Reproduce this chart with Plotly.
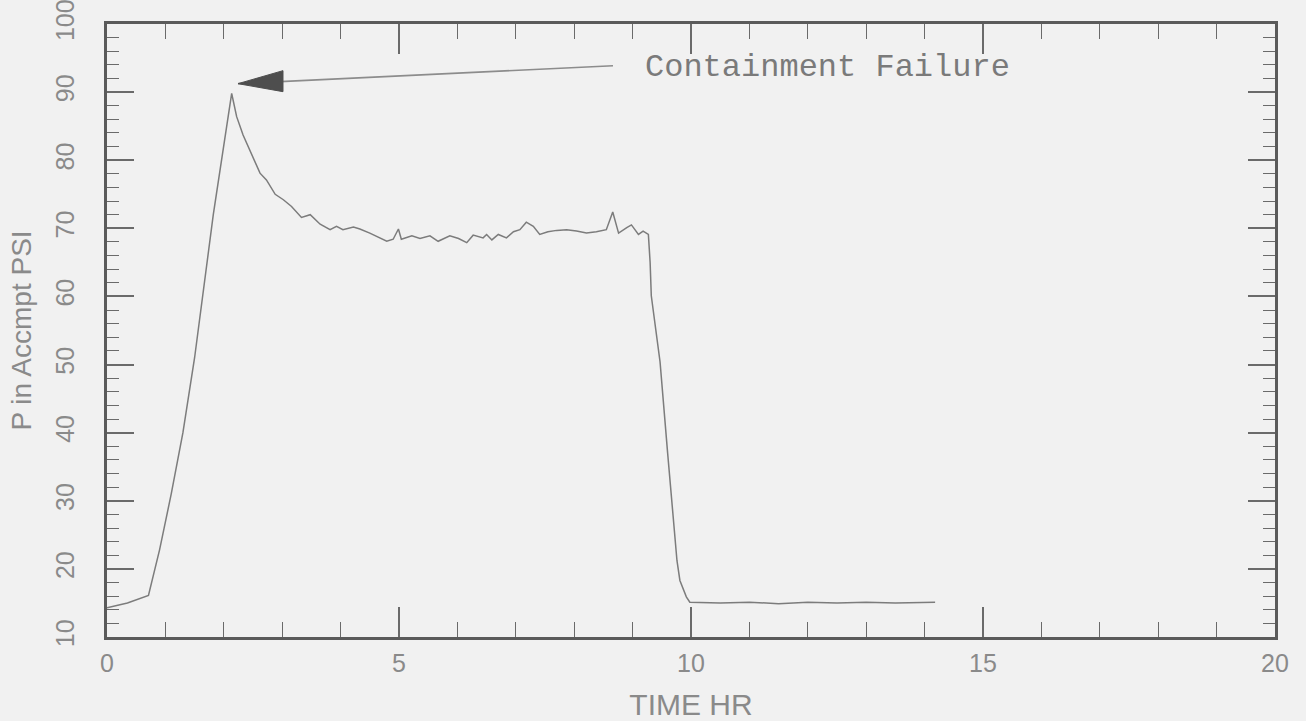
import plotly.graph_objects as go

# Containment pressure history (hours, psia)
time_hr = [0.0, 0.35, 0.71, 0.90, 1.10, 1.30, 1.50, 1.82, 2.135,
           2.22, 2.33, 2.51, 2.62, 2.73, 2.88, 3.02, 3.16, 3.33, 3.48, 3.65,
           3.82, 3.93, 4.04, 4.22, 4.33, 4.50, 4.62, 4.79, 4.90, 4.99, 5.04,
           5.22, 5.36, 5.53, 5.67, 5.87, 6.02, 6.16, 6.27, 6.44, 6.50, 6.59,
           6.70, 6.84, 6.96, 7.07, 7.18, 7.30, 7.41, 7.55, 7.70, 7.87, 8.04,
           8.21, 8.38, 8.55, 8.66, 8.76, 8.90, 8.98, 9.10, 9.18, 9.27,
           9.30, 9.32, 9.38, 9.44, 9.47, 9.60, 9.76, 9.81, 9.92, 9.98,
           10.5, 11.0, 11.5, 12.0, 12.5, 13.0, 13.5, 14.18]
pressure_psi = [14.3, 15.0, 16.1, 22.8, 31.0, 40.0, 51.0, 72.0, 89.8,
                86.4, 83.7, 80.1, 78.1, 77.1, 75.0, 74.2, 73.2, 71.6, 72.0, 70.6,
                69.8, 70.3, 69.8, 70.2, 69.9, 69.3, 68.8, 68.1, 68.4, 69.9, 68.4,
                68.9, 68.5, 68.9, 68.1, 68.9, 68.5, 67.9, 69.0, 68.6, 69.1, 68.3,
                69.1, 68.6, 69.5, 69.8, 70.9, 70.3, 69.1, 69.5, 69.7, 69.8, 69.6,
                69.3, 69.5, 69.8, 72.4, 69.3, 70.1, 70.5, 69.1, 69.6, 69.1,
                65.0, 60.1, 56.2, 52.3, 50.4, 37.0, 21.2, 18.3, 15.9, 15.1,
                15.0, 15.1, 14.9, 15.1, 15.0, 15.1, 15.0, 15.1]

x_ticks = [0, 5, 10, 15, 20]
y_ticks = [10, 20, 30, 40, 50, 60, 70, 80, 90, 100]

# Callout: arrow tip at the failure peak, tail beside the label
arrow_tip = (2.243, 91.24)
arrow_tail = (8.664, 93.87)
label_pos = (9.18, 93.6)
label_text = "Containment Failure"

ink = "#5a5a5a"
trace_ink = "#7c7c7c"
text_ink = "#8a8a8a"
paper = "#f1f1f1"

fig = go.Figure()
fig.add_trace(go.Scatter(
    x=time_hr, y=pressure_psi, mode="lines",
    line=dict(color=trace_ink, width=1.5),
    showlegend=False, hoverinfo="skip"))

axis_common = dict(
    showgrid=False, zeroline=False, automargin=False,
    showline=True, linecolor=ink, linewidth=3,
    mirror="allticks", ticks="inside", tickcolor="#6a6a6a", tickwidth=1.5,
    ticklabeloverflow="allow",
    tickfont=dict(family="Liberation Sans", size=25, color=text_ink),
)

fig.update_xaxes(
    **axis_common,
    range=[0, 20], tickvals=x_ticks, ticklen=30,
    ticklabelstandoff=2,
    minor=dict(dtick=1, ticks="inside", ticklen=15, tickcolor="#6a6a6a", tickwidth=1.2),
    title=dict(text="TIME HR", font=dict(family="Liberation Sans", size=30, color=text_ink),
               standoff=20),
)
fig.update_yaxes(
    **axis_common,
    range=[10, 100], tickvals=y_ticks, ticklen=27, tickangle=-90,
    ticklabelstandoff=20,
    minor=dict(dtick=2, ticks="inside", ticklen=12, tickcolor="#6a6a6a", tickwidth=1.2),
    title=dict(text="P in Accmpt PSI", font=dict(family="Liberation Sans", size=28, color=text_ink),
               standoff=12),
)

# Arrow shaft
fig.add_shape(type="line", xref="x", yref="y",
              x0=arrow_tail[0], y0=arrow_tail[1], x1=arrow_tip[0], y1=arrow_tip[1],
              line=dict(color="#8c8c8c", width=1.6))
# Filled wedge arrowhead anchored at the tip
fig.add_shape(type="path", xref="x", yref="y",
              xsizemode="pixel", ysizemode="pixel",
              xanchor=arrow_tip[0], yanchor=arrow_tip[1],
              path="M0,0 L45,13 L45,-8 Z",
              fillcolor="#4e4e4e", line=dict(color="#4e4e4e", width=1))

fig.add_annotation(x=label_pos[0], y=label_pos[1], xref="x", yref="y",
                   text=label_text, showarrow=False, xanchor="left", yanchor="middle",
                   font=dict(family="Liberation Mono", size=32, color="#7a7a7a"))

fig.update_layout(
    width=1306, height=721,
    margin=dict(l=107, r=31, t=24, b=84),
    paper_bgcolor=paper, plot_bgcolor=paper,
)

fig.write_html("out.html")
